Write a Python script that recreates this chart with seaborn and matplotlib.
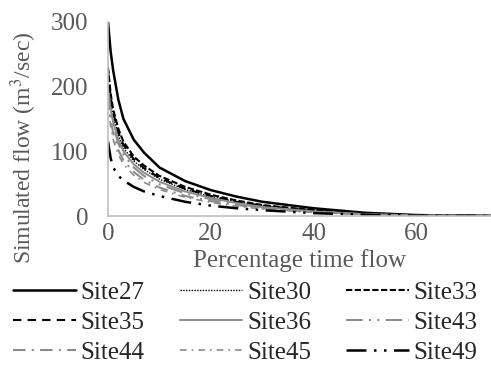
import pandas as pd
import seaborn as sns
from matplotlib import pyplot as plt

# percentage of time flow is exceeded
pct = [0, 0.5, 1, 2, 3, 5, 7, 10, 15, 20, 25, 30, 40, 50, 60, 70, 75]

site27 = [300, 255, 225, 180, 150, 118, 98, 75, 54, 40, 30, 22, 12, 5, 1.5, 0.5, 0.3]
site30 = [205, 175, 155, 125, 105, 85, 72, 57, 41, 30, 22, 16, 8, 3.5, 1, 0.3, 0.2]
site33 = [230, 190, 165, 135, 115, 92, 78, 62, 45, 33, 24, 17, 9, 4, 1, 0.4, 0.2]
site35 = [225, 185, 160, 130, 110, 88, 74, 59, 42, 31, 22, 16, 8, 3.5, 1, 0.4, 0.2]
site36 = [195, 165, 145, 118, 100, 80, 67, 53, 38, 28, 20, 14, 7, 3, 0.8, 0.3, 0.2]
site43 = [190, 160, 140, 112, 95, 75, 62, 49, 35, 26, 19, 13, 6.5, 2.8, 0.8, 0.3, 0.2]
site44 = [185, 150, 128, 102, 86, 68, 56, 44, 31, 23, 17, 12, 6, 2.5, 0.7, 0.3, 0.2]
site45 = [175, 140, 118, 95, 80, 63, 52, 41, 29, 21, 15, 11, 5.5, 2.3, 0.7, 0.3, 0.2]
site49 = [115, 90, 75, 62, 55, 45, 38, 31, 22, 16, 12, 9, 4.5, 2, 0.6, 0.2, 0.1]

sites = ['Site27', 'Site30', 'Site33', 'Site35', 'Site36', 'Site43', 'Site44', 'Site45', 'Site49']
flows = [site27, site30, site33, site35, site36, site43, site44, site45, site49]

# (colour, linestyle, linewidth) for each site
styles = {
    'Site27': ('black', '-', 1.8),
    'Site30': ('black', (0, (1, 1)), 1.0),
    'Site33': ('black', (0, (3, 1.2)), 1.5),
    'Site35': ('black', (0, (4, 3)), 1.5),
    'Site36': ('#8c8c8c', '-', 1.4),
    'Site43': ('#8c8c8c', (0, (8, 3, 1, 3, 1, 3)), 1.5),
    'Site44': ('#8c8c8c', (0, (6, 3, 1, 3)), 1.5),
    'Site45': ('#8c8c8c', (0, (4, 3, 1, 3)), 1.2),
    'Site49': ('black', (0, (8, 3, 1, 3, 1, 3)), 1.8),
}

sns.set_style("white")
plt.rcParams['font.family'] = ['Liberation Serif', 'DejaVu Serif']
plt.rcParams['mathtext.fontset'] = 'stix'

fig = plt.figure(figsize=(4.91, 3.77), dpi=100)
ax = fig.add_axes([0.22, 0.427, 0.78, 0.515])

for name, vals in zip(sites, flows):
    df = pd.DataFrame({'pct': pct, 'flow': vals})
    c, ls, lw = styles[name]
    sns.lineplot(data=df, x='pct', y='flow', ax=ax, color=c, linestyle=ls, lw=lw, label=name)

ax.set_xlim(0, 74.5)
ax.set_ylim(0, 300)
ax.set_xticks([0, 20, 40, 60])
ax.set_yticks([0, 100, 200, 300])
ax.tick_params(labelsize=18, colors='#595959', length=0)
ax.tick_params(axis='y', pad=14)
ax.tick_params(axis='x', pad=5)
for s in ['top', 'right']:
    ax.spines[s].set_visible(False)
for s in ['left', 'bottom']:
    ax.spines[s].set_color('#bfbfbf')
    ax.spines[s].set_linewidth(1.2)

ax.set_xlabel('Percentage time flow', fontsize=18, color='#595959', labelpad=3)
ax.set_ylabel('Simulated flow (m$^3$/sec)', fontsize=17, color='#595959')
ax.yaxis.set_label_coords(-0.18, 0.35)

handles, labels = ax.get_legend_handles_labels()
ax.get_legend().remove()
# row-wise order in a 3-column legend
order = [0, 3, 6, 1, 4, 7, 2, 5, 8]
fig.legend([handles[i] for i in order], [labels[i] for i in order],
           ncol=3, loc='lower center', bbox_to_anchor=(0.5, -0.005), frameon=False,
           fontsize=18, handlelength=2.5, handletextpad=0.2, columnspacing=1.4,
           labelspacing=0.3, borderaxespad=0.2)

fig.savefig('out.png', dpi=100)
